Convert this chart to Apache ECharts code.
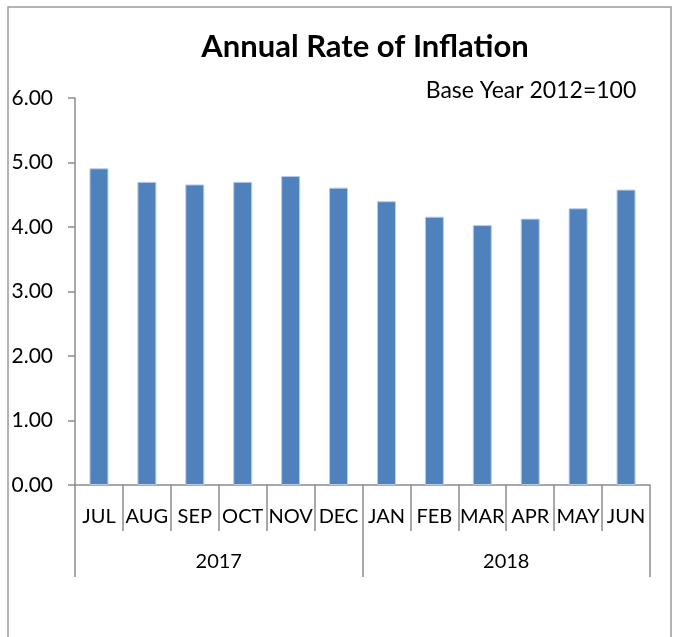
<!DOCTYPE html>
<html>
<head>
<meta charset="utf-8">
<script src="https://cdn.jsdelivr.net/npm/echarts@6/dist/echarts.min.js"></script>
<style>
html,body{margin:0;padding:0;background:#fff;}
#chart{width:678px;height:637px;}
</style>
</head>
<body>
<div id="chart"></div>
<script>
var months = ['JUL','AUG','SEP','OCT','NOV','DEC','JAN','FEB','MAR','APR','MAY','JUN'];
var years = ['2017','2018'];
var inflation = [4.91, 4.70, 4.66, 4.70, 4.79, 4.61, 4.40, 4.16, 4.03, 4.13, 4.29, 4.58];
var yTicks = [0, 1, 2, 3, 4, 5, 6];

var FONT = 'Lato, "Open Sans", sans-serif';
var AXIS = '#8c8c8c';
var chart = echarts.init(document.getElementById('chart'), null, {renderer: 'canvas'});
chart.setOption({
  animation: false,
  backgroundColor: '#fff',
  title: [{
    text: 'Annual Rate of Inflation',
    left: 360, top: 26, textAlign: 'center',
    textStyle: {fontFamily: FONT, fontWeight: 'bold', fontSize: 31, color: '#000'}
  }, {
    text: 'Base Year 2012=100',
    left: 526, top: 74, textAlign: 'center',
    textStyle: {fontFamily: FONT, fontWeight: 'normal', fontSize: 23, color: '#000'}
  }],
  graphic: [{
    type: 'rect',
    shape: {x: 8, y: 7, width: 663, height: 700},
    style: {fill: 'none', stroke: '#9a9a9a', lineWidth: 1.5},
    silent: true
  }],
  grid: {left: 75, right: 28, top: 98, bottom: 152, containLabel: false},
  xAxis: [{
    type: 'category',
    data: months,
    position: 'bottom',
    axisLine: {show: true, lineStyle: {color: AXIS, width: 1.5}},
    axisTick: {show: true, interval: 0, length: 46, lineStyle: {color: AXIS, width: 1.5}},
    axisLabel: {interval: 0, margin: 22, fontFamily: FONT, fontSize: 20, color: '#000'}
  }, {
    type: 'category',
    data: years,
    position: 'bottom',
    offset: 46,
    axisLine: {show: false},
    axisTick: {show: true, interval: 0, length: 46, lineStyle: {color: AXIS, width: 1.5}},
    axisLabel: {interval: 0, margin: 21, fontFamily: FONT, fontSize: 20, color: '#000'}
  }],
  yAxis: {
    type: 'value',
    min: yTicks[0], max: yTicks[yTicks.length - 1], interval: 1,
    axisLine: {show: true, lineStyle: {color: AXIS, width: 1.5}},
    axisTick: {show: true, length: 7, lineStyle: {color: AXIS, width: 1.5}},
    splitLine: {show: false},
    axisLabel: {margin: 22, fontFamily: FONT, fontSize: 21, color: '#000',
      formatter: function (v) { return v.toFixed(2); }}
  },
  series: [{
    type: 'bar',
    xAxisIndex: 0,
    data: inflation,
    barWidth: 19,
    itemStyle: {color: '#4F81BD', borderColor: '#B9CDE5', borderWidth: 1}
  }]
});
</script>
</body>
</html>
